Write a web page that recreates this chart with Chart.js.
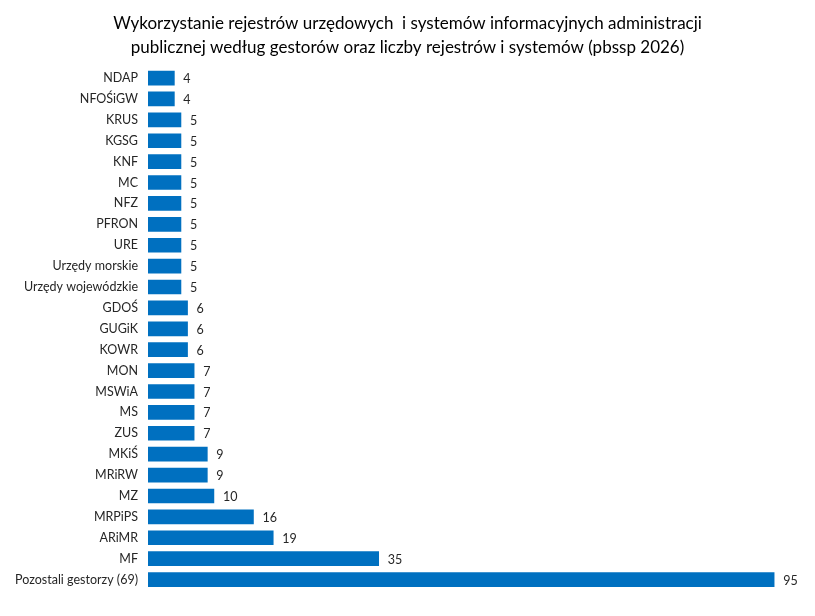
<!DOCTYPE html>
<html>
<head>
<meta charset="utf-8">
<script src="https://cdn.jsdelivr.net/npm/chart.js@4"></script>
<style>
  html, body { margin: 0; padding: 0; background: #fff; }
</style>
</head>
<body>
<canvas id="chart" width="815" height="616"></canvas>
<script>
const titleLines = [
  'Wykorzystanie rejestrów urzędowych  i systemów informacyjnych administracji',
  'publicznej według gestorów oraz liczby rejestrów i systemów (pbssp 2026)'
];

const gestors = [
  'NDAP', 'NFOŚiGW', 'KRUS', 'KGSG', 'KNF', 'MC', 'NFZ', 'PFRON', 'URE',
  'Urzędy morskie', 'Urzędy wojewódzkie', 'GDOŚ', 'GUGiK', 'KOWR', 'MON',
  'MSWiA', 'MS', 'ZUS', 'MKiŚ', 'MRiRW', 'MZ', 'MRPiPS', 'ARiMR', 'MF',
  'Pozostali gestorzy (69)'
];

const counts = [
  4, 4, 5, 5, 5, 5, 5, 5, 5,
  5, 5, 6, 6, 6, 7,
  7, 7, 7, 9, 9, 10, 16, 19, 35,
  95
];

const FONT = 'Lato, "Noto Sans", sans-serif';

// value labels to the right of each bar
const valueLabels = {
  id: 'valueLabels',
  afterDatasetsDraw(chart) {
    const ctx = chart.ctx;
    const meta = chart.getDatasetMeta(0);
    ctx.save();
    ctx.font = '12.5px ' + FONT;
    ctx.fillStyle = '#262626';
    ctx.textAlign = 'left';
    ctx.textBaseline = 'middle';
    meta.data.forEach((bar, i) => {
      ctx.fillText(String(counts[i]), bar.x + 9, bar.y + 1);
    });
    ctx.restore();
  }
};

const ctx = document.getElementById('chart').getContext('2d');
new Chart(ctx, {
  type: 'bar',
  data: {
    labels: gestors,
    datasets: [{
      data: counts,
      backgroundColor: '#0070C0',
      borderWidth: 0,
      barThickness: 14
    }]
  },
  options: {
    indexAxis: 'y',
    responsive: false,
    animation: false,
    layout: { padding: { left: 0, right: 0, bottom: 26 } },
    plugins: {
      legend: { display: false },
      tooltip: { enabled: false },
      title: {
        display: true,
        text: titleLines,
        color: '#000',
        font: { family: FONT, size: 17, weight: 'normal', lineHeight: 1.4 },
        padding: { top: 12, bottom: 8 }
      }
    },
    scales: {
      // room on the right for the "95" label
      x: { display: false, min: 0, max: 101.2 },
      y: {
        afterFit: scale => { scale.width = 148; },
        grid: { display: false },
        border: { display: false },
        ticks: {
          color: '#262626',
          padding: 2,
          autoSkip: false,
          font: { family: FONT, size: 12.5 }
        }
      }
    }
  },
  plugins: [valueLabels]
});
</script>
</body>
</html>
